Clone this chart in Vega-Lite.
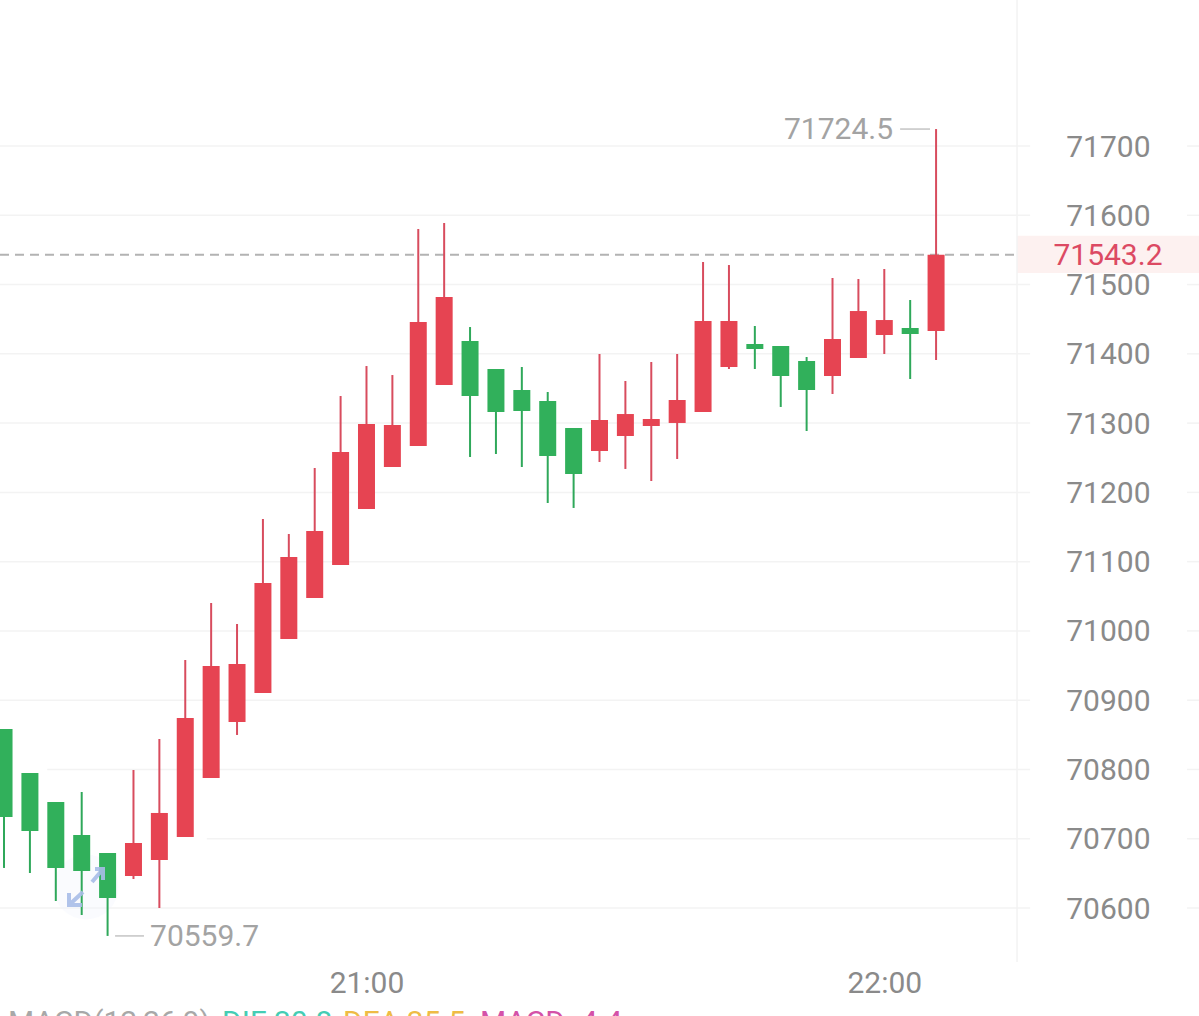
{
"$schema":"https://vega.github.io/schema/vega-lite/v6.json",
"width":1199,"height":1016,"padding":0,"autosize":{"type":"none"},"background":"#ffffff",
"config":{"view":{"stroke":null},"font":"Roboto"},
"datasets":{
"candles":[
{"t":"2024-01-01T20:18:00","open":70858.4,"close":70731.4,"high":70858.4,"low":70657.8,"dir":"down"},
{"t":"2024-01-01T20:21:00","open":70794.9,"close":70711.2,"high":70794.9,"low":70650.5,"dir":"down"},
{"t":"2024-01-01T20:24:00","open":70753.0,"close":70657.8,"high":70753.0,"low":70610.1,"dir":"down"},
{"t":"2024-01-01T20:27:00","open":70705.4,"close":70653.4,"high":70767.5,"low":70589.9,"dir":"down"},
{"t":"2024-01-01T20:30:00","open":70679.4,"close":70614.4,"high":70679.4,"low":70559.7,"dir":"down"},
{"t":"2024-01-01T20:33:00","open":70646.2,"close":70693.8,"high":70799.2,"low":70641.9,"dir":"up"},
{"t":"2024-01-01T20:36:00","open":70669.3,"close":70737.2,"high":70844.0,"low":70600.0,"dir":"up"},
{"t":"2024-01-01T20:39:00","open":70702.5,"close":70874.3,"high":70958.0,"low":70702.5,"dir":"up"},
{"t":"2024-01-01T20:42:00","open":70787.7,"close":70949.4,"high":71040.3,"low":70787.7,"dir":"up"},
{"t":"2024-01-01T20:45:00","open":70868.5,"close":70952.2,"high":71010.0,"low":70849.8,"dir":"up"},
{"t":"2024-01-01T20:48:00","open":70910.4,"close":71069.2,"high":71161.6,"low":70910.4,"dir":"up"},
{"t":"2024-01-01T20:51:00","open":70988.3,"close":71106.7,"high":71139.9,"low":70988.3,"dir":"up"},
{"t":"2024-01-01T20:54:00","open":71047.5,"close":71144.2,"high":71235.2,"low":71047.5,"dir":"up"},
{"t":"2024-01-01T20:57:00","open":71095.2,"close":71258.3,"high":71339.1,"low":71095.2,"dir":"up"},
{"t":"2024-01-01T21:00:00","open":71176.0,"close":71298.7,"high":71382.4,"low":71176.0,"dir":"up"},
{"t":"2024-01-01T21:03:00","open":71236.6,"close":71297.3,"high":71369.4,"low":71236.6,"dir":"up"},
{"t":"2024-01-01T21:06:00","open":71267.0,"close":71446.0,"high":71580.2,"low":71267.0,"dir":"up"},
{"t":"2024-01-01T21:09:00","open":71355.0,"close":71482.1,"high":71588.9,"low":71355.0,"dir":"up"},
{"t":"2024-01-01T21:12:00","open":71418.5,"close":71339.1,"high":71438.7,"low":71251.1,"dir":"down"},
{"t":"2024-01-01T21:15:00","open":71378.1,"close":71316.0,"high":71378.1,"low":71255.4,"dir":"down"},
{"t":"2024-01-01T21:18:00","open":71347.8,"close":71317.5,"high":71381.0,"low":71236.6,"dir":"down"},
{"t":"2024-01-01T21:21:00","open":71331.9,"close":71252.5,"high":71344.9,"low":71184.7,"dir":"down"},
{"t":"2024-01-01T21:24:00","open":71292.9,"close":71226.5,"high":71292.9,"low":71177.5,"dir":"down"},
{"t":"2024-01-01T21:27:00","open":71259.7,"close":71304.5,"high":71399.8,"low":71243.9,"dir":"up"},
{"t":"2024-01-01T21:30:00","open":71281.4,"close":71313.1,"high":71360.8,"low":71233.8,"dir":"up"},
{"t":"2024-01-01T21:33:00","open":71295.8,"close":71305.9,"high":71388.2,"low":71216.4,"dir":"up"},
{"t":"2024-01-01T21:36:00","open":71300.2,"close":71333.4,"high":71399.8,"low":71248.2,"dir":"up"},
{"t":"2024-01-01T21:39:00","open":71316.0,"close":71447.4,"high":71532.6,"low":71316.0,"dir":"up"},
{"t":"2024-01-01T21:42:00","open":71381.0,"close":71447.4,"high":71528.2,"low":71378.1,"dir":"up"},
{"t":"2024-01-01T21:45:00","open":71414.2,"close":71407.0,"high":71440.2,"low":71378.1,"dir":"down"},
{"t":"2024-01-01T21:48:00","open":71411.3,"close":71368.0,"high":71411.3,"low":71323.3,"dir":"down"},
{"t":"2024-01-01T21:51:00","open":71389.7,"close":71347.8,"high":71395.4,"low":71288.6,"dir":"down"},
{"t":"2024-01-01T21:54:00","open":71368.0,"close":71421.4,"high":71509.5,"low":71342.0,"dir":"up"},
{"t":"2024-01-01T21:57:00","open":71394.0,"close":71461.8,"high":71508.0,"low":71394.0,"dir":"up"},
{"t":"2024-01-01T22:00:00","open":71427.2,"close":71448.8,"high":71522.5,"low":71399.8,"dir":"up"},
{"t":"2024-01-01T22:03:00","open":71437.3,"close":71428.6,"high":71477.7,"low":71363.7,"dir":"down"},
{"t":"2024-01-01T22:06:00","open":71433.0,"close":71543.2,"high":71724.5,"low":71391.1,"dir":"up"}
],
"grid":[
{"price":70600,"from":"2024-01-01T20:17:32","to":"2024-01-01T22:16:54"},{"price":70600,"from":"2024-01-01T22:35:05","to":"2024-01-01T22:36:28"},
{"price":70700,"from":"2024-01-01T20:41:30","to":"2024-01-01T22:16:54"},{"price":70700,"from":"2024-01-01T22:35:05","to":"2024-01-01T22:36:28"},
{"price":70800,"from":"2024-01-01T20:23:00","to":"2024-01-01T22:16:54"},{"price":70800,"from":"2024-01-01T22:35:05","to":"2024-01-01T22:36:28"},
{"price":70900,"from":"2024-01-01T20:17:32","to":"2024-01-01T22:16:54"},{"price":70900,"from":"2024-01-01T22:35:05","to":"2024-01-01T22:36:28"},
{"price":71000,"from":"2024-01-01T20:17:32","to":"2024-01-01T22:16:54"},{"price":71000,"from":"2024-01-01T22:35:05","to":"2024-01-01T22:36:28"},
{"price":71100,"from":"2024-01-01T20:17:32","to":"2024-01-01T22:16:54"},{"price":71100,"from":"2024-01-01T22:35:05","to":"2024-01-01T22:36:28"},
{"price":71200,"from":"2024-01-01T20:17:32","to":"2024-01-01T22:16:54"},{"price":71200,"from":"2024-01-01T22:35:05","to":"2024-01-01T22:36:28"},
{"price":71300,"from":"2024-01-01T20:17:32","to":"2024-01-01T22:16:54"},{"price":71300,"from":"2024-01-01T22:35:05","to":"2024-01-01T22:36:28"},
{"price":71400,"from":"2024-01-01T20:17:32","to":"2024-01-01T22:16:54"},{"price":71400,"from":"2024-01-01T22:35:05","to":"2024-01-01T22:36:28"},
{"price":71500,"from":"2024-01-01T20:17:32","to":"2024-01-01T22:16:54"},{"price":71500,"from":"2024-01-01T22:35:05","to":"2024-01-01T22:36:28"},
{"price":71600,"from":"2024-01-01T20:17:32","to":"2024-01-01T22:16:54"},{"price":71600,"from":"2024-01-01T22:35:05","to":"2024-01-01T22:36:28"},
{"price":71700,"from":"2024-01-01T20:17:32","to":"2024-01-01T22:16:54"},{"price":71700,"from":"2024-01-01T22:35:05","to":"2024-01-01T22:36:28"}
],
"separators":[{"price":70522.1},{"price":70464.3}],
"divider":[{"t":"2024-01-01T22:15:23","top":71910.8,"bottom":70522.1}],
"band":[{"from":"2024-01-01T22:15:23","to":"2024-01-01T22:36:28","top":71570.3,"bottom":71516.7}],
"last":[{"price":71543.2,"from":"2024-01-01T20:17:32","to":"2024-01-01T22:15:09","t":"2024-01-01T22:25:55","label":"71543.2"}],
"extremes":[
{"price":71724.5,"from":"2024-01-01T22:01:50","to":"2024-01-01T22:05:18","t":"2024-01-01T22:01:01","label":"71724.5","side":"right"},
{"price":70559.7,"from":"2024-01-01T20:30:52","to":"2024-01-01T20:34:13","t":"2024-01-01T20:34:55","label":"70559.7","side":"left"}
],
"macd":[
{"t":"2024-01-01T20:18:28","price":70421.0,"label":"MACD(12,26,9)","kind":"name"},
{"t":"2024-01-01T20:43:16","price":70421.0,"label":"DIF 30.8","kind":"dif"},
{"t":"2024-01-01T20:57:17","price":70421.0,"label":"DEA 35.5","kind":"dea"},
{"t":"2024-01-01T21:13:09","price":70421.0,"label":"MACD -4.4","kind":"macd"}
],
"icon":[{"t":"2024-01-01T20:27:30","price":70630.3}]
},
"encoding":{
"x":{"field":"t","type":"temporal","title":null,"scale":{"padding":0,"domain":[{"year":2024,"month":1,"date":1,"hours":20,"minutes":17,"seconds":32},{"year":2024,"month":1,"date":1,"hours":22,"minutes":36,"seconds":28}]},
"axis":{"values":[{"year":2024,"month":1,"date":1,"hours":21,"minutes":0},{"year":2024,"month":1,"date":1,"hours":22,"minutes":0}],"format":"%H:%M","domain":false,"ticks":false,"grid":false,"labelFont":"Roboto","labelFontSize":30,"labelColor":"#8a8a8a","labelPadding":-33,"labelBaseline":"middle","labelFlush":false,"labelOverlap":false,"labelBound":false}},
"y":{"field":"price","type":"quantitative","title":null,"scale":{"domain":[70444.1,71910.8],"zero":false,"nice":false},
"axis":{"orient":"right","values":[70600,70700,70800,70900,71000,71100,71200,71300,71400,71500,71600,71700],"format":"d","domain":false,"ticks":false,"grid":false,"labelFont":"Roboto","labelFontSize":30,"labelColor":"#8a8a8a","labelAlign":"right","labelPadding":-49,"labelBaseline":"middle","labelOffset":1,"labelOverlap":false,"labelBound":false,"zindex":1}}
},
"resolve":{"scale":{"color":"independent"}},
"layer":[
{"data":{"name":"band"},"mark":{"type":"rect","color":"#fdf1f0"},"encoding":{"x":{"field":"from","type":"temporal"},"x2":{"field":"to"},"y":{"field":"top","type":"quantitative"},"y2":{"field":"bottom"}}},
{"data":{"name":"grid"},"mark":{"type":"rule","color":"#f3f3f3","strokeWidth":1.5},"encoding":{"x":{"field":"from","type":"temporal"},"x2":{"field":"to"}}},
{"data":{"name":"divider"},"mark":{"type":"rule","color":"#f3f3f3","strokeWidth":1.5},"encoding":{"y":{"field":"top","type":"quantitative"},"y2":{"field":"bottom"}}},
{"data":{"name":"separators"},"mark":{"type":"rule","color":"#efefef","strokeWidth":1.5},"encoding":{"x":{"datum":{"year":2024,"month":1,"date":1,"hours":20,"minutes":17,"seconds":32},"type":"temporal"},"x2":{"datum":{"year":2024,"month":1,"date":1,"hours":22,"minutes":36,"seconds":28}}}},
{"data":{"name":"icon"},"mark":{"type":"point","filled":true,"shape":"circle","size":4200,"color":"#eef2fd","opacity":0.3},"encoding":{}},
{"data":{"name":"last"},"mark":{"type":"rule","color":"#b3b3b3","strokeWidth":2,"strokeDash":[9,6]},"encoding":{"x":{"field":"from","type":"temporal"},"x2":{"field":"to"}}},
{"data":{"name":"candles"},"mark":{"type":"rule","strokeWidth":2},"encoding":{"y":{"field":"low","type":"quantitative"},"y2":{"field":"high"},"color":{"field":"dir","type":"nominal","legend":null,"scale":{"domain":["up","down"],"range":["#d84c5e","#2fa85a"]}}}},
{"data":{"name":"candles"},"mark":{"type":"bar","size":17,"orient":"vertical"},"encoding":{"y":{"field":"open","type":"quantitative"},"y2":{"field":"close"},"color":{"field":"dir","type":"nominal","legend":null,"scale":{"domain":["up","down"],"range":["#e64452","#31b05b"]}}}},
{"data":{"name":"extremes"},"mark":{"type":"rule","color":"#c4c4c4","strokeWidth":1.5},"encoding":{"x":{"field":"from","type":"temporal"},"x2":{"field":"to"}}},
{"data":{"name":"extremes"},"transform":[{"filter":"datum.side==='right'"}],"mark":{"type":"text","font":"Roboto","fontSize":30,"color":"#a3a3a3","baseline":"middle","align":"right","dy":1},"encoding":{"text":{"field":"label"}}},
{"data":{"name":"extremes"},"transform":[{"filter":"datum.side==='left'"}],"mark":{"type":"text","font":"Roboto","fontSize":30,"color":"#a3a3a3","baseline":"middle","align":"left","dy":1},"encoding":{"text":{"field":"label"}}},
{"data":{"name":"last"},"mark":{"type":"text","font":"Roboto","fontSize":30,"color":"#dc4a63","align":"center","baseline":"middle","dy":1},"encoding":{"text":{"field":"label"}}},
{"data":{"name":"macd"},"mark":{"type":"text","font":"Roboto","fontSize":30,"align":"left","baseline":"alphabetic"},"encoding":{"text":{"field":"label"},"color":{"field":"kind","type":"nominal","legend":null,"scale":{"domain":["name","dif","dea","macd"],"range":["#a8a8a8","#45cdb4","#eebc45","#d452a8"]}}}},
{"data":{"name":"icon"},"mark":{"type":"point","filled":false,"size":1600,"stroke":"#a9bde8","strokeWidth":4,"opacity":0.9,"shape":"M0.3 -0.25L0.85 -0.9M0.45 -0.9L0.85 -0.9L0.85 -0.35M-0.15 0.25L-0.85 0.9M-0.85 0.3L-0.85 0.9L-0.2 0.9"},"encoding":{}}
]
}
